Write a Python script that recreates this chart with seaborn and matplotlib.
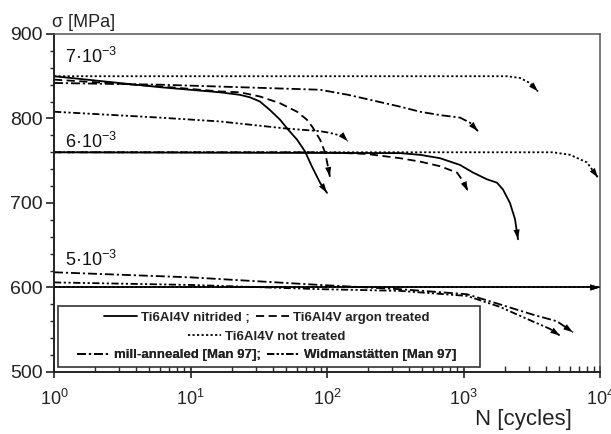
import numpy as np
import pandas as pd
import seaborn as sns
import matplotlib.pyplot as plt
from matplotlib.lines import Line2D
from matplotlib.patches import Rectangle
from matplotlib.ticker import MultipleLocator, LogLocator, NullFormatter

# --- data (N in cycles, sigma in MPa) ---
# Ti6Al4V nitrided (solid)
nit7_N = [1, 6, 16.4, 23, 27.3, 32.3, 38.2, 45.3, 51.8, 60.3, 69, 77.6, 88.9, 100]
nit7_s = [850, 837, 831, 828, 825, 820, 810, 798.5, 787, 775, 761, 743, 724, 712]
nit6_N = [1, 343, 480, 673, 943, 1174, 1487, 1760, 1945, 2190, 2383, 2508]
nit6_s = [760, 759, 757, 753, 745, 736, 728, 724, 716, 700, 681, 657]
nit5_N = [1, 9000, 10000]
nit5_s = [600, 600, 600]

# Ti6Al4V argon treated (dashed)
arg7_N = [1, 6, 16.4, 23, 32.3, 45.3, 60.3, 71.3, 78.9, 88.9, 96.7, 101.7, 105]
arg7_s = [846, 838, 832, 831, 826, 818, 808, 798.5, 789, 775, 760, 743, 731]
arg6_N = [1, 100, 196, 343, 480, 673, 896, 991, 1079]
arg6_s = [760, 760, 758, 753, 749, 743.5, 736, 726, 714]

# Ti6Al4V not treated (dotted)
not7_N = [1, 2090, 2594, 3060, 3515]
not7_s = [850, 850, 848, 842, 832]
not6_N = [1, 4530, 6030, 8030, 9670]
not6_s = [760, 760, 757, 748, 730]
not5_N = [1, 10000]
not5_s = [600, 600]

# mill-annealed [Man 97] (dash-dot)
mill7_N = [1, 6, 88.9, 143, 343, 480, 673, 943, 1116, 1277]
mill7_s = [842, 840, 834, 828, 814, 808, 804, 801, 795, 785]
mill5_N = [1, 10, 88.9, 343, 1062, 1850, 3200, 4840, 6340]
mill5_s = [618, 612, 603, 598, 592, 580, 568, 560, 547]

# Widmanstaetten [Man 97] (dash-dot-dot)
wid7_N = [1, 6, 16.4, 51, 88.9, 105, 131, 142]
wid7_s = [808, 801, 796.5, 788, 785, 783, 779, 773]
wid5_N = [1, 10, 88.9, 343, 1062, 1850, 3200, 4300, 5090]
wid5_s = [606, 603, 598, 596, 590, 577, 560, 551, 543]

strain_labels = ['7·10$^{-3}$', '6·10$^{-3}$', '5·10$^{-3}$']
strain_label_y = [866, 765.5, 625.5]

styles = {
    'nitrided': '-',
    'argon': (0, (4.5, 2.5)),
    'not': (0, (1.2, 1.3)),
    'mill': (0, (5, 1.6, 1.2, 1.6)),
    'wid': (0, (4, 1.4, 1.2, 1.4, 1.2, 1.4)),
}

curves = [
    ('nitrided', nit7_N, nit7_s), ('nitrided', nit6_N, nit6_s), ('nitrided', nit5_N, nit5_s),
    ('argon', arg7_N, arg7_s), ('argon', arg6_N, arg6_s),
    ('not', not7_N, not7_s), ('not', not6_N, not6_s), ('not', not5_N, not5_s),
    ('mill', mill7_N, mill7_s), ('mill', mill5_N, mill5_s),
    ('wid', wid7_N, wid7_s), ('wid', wid5_N, wid5_s),
]

sns.set_style('ticks')
plt.rcParams['font.family'] = ['Liberation Sans', 'DejaVu Sans']
plt.rcParams['mathtext.fontset'] = 'custom'
plt.rcParams['mathtext.rm'] = 'Liberation Sans'
plt.rcParams['mathtext.it'] = 'Liberation Sans:italic'
plt.rcParams['mathtext.bf'] = 'Liberation Sans:bold'

fig = plt.figure(figsize=(6.11, 4.34), dpi=100)
ax = fig.add_axes([0.0884, 0.1429, 0.8936, 0.7788])

for kind, N, s in curves:
    df = pd.DataFrame({'N': N, 's': s})
    sns.lineplot(data=df, x='N', y='s', ax=ax, color='k', lw=1.3,
                 linestyle=styles[kind], sort=False, estimator=None)
    # arrowhead at the end of each curve
    ax.annotate('', xy=(N[-1], s[-1]), xytext=(N[-2], s[-2]),
                arrowprops=dict(arrowstyle='-|>,head_length=0.7,head_width=0.22',
                                fc='k', ec='k', lw=0, shrinkA=0, shrinkB=0))

for lab, yy in zip(strain_labels, strain_label_y):
    ax.text(1.2, yy, lab, fontsize=13, va='baseline', ha='left', color='#111')

ax.set_xscale('log')
ax.set_xlim(1, 1e4)
ax.set_ylim(500, 900)
ax.yaxis.set_major_locator(MultipleLocator(100))
ax.yaxis.set_minor_locator(MultipleLocator(20))
ax.xaxis.set_major_locator(LogLocator(base=10))
ax.xaxis.set_minor_locator(LogLocator(base=10, subs=np.arange(2, 10)))
ax.xaxis.set_minor_formatter(NullFormatter())
ax.tick_params(axis='x', which='major', direction='inout', length=8, width=1.2,
               labelsize=13, colors='#222', pad=8)
ax.tick_params(axis='x', which='minor', direction='in', length=4, width=1)
ax.tick_params(axis='y', which='major', direction='out', length=6, width=1.2,
               labelsize=14, colors='#222', pad=2)
ax.tick_params(axis='y', which='minor', direction='out', length=3, width=1)

for side in ['left', 'bottom']:
    ax.spines[side].set_color('#222')
    ax.spines[side].set_linewidth(1.4)
for side in ['top', 'right']:
    ax.spines[side].set_visible(True)
    ax.spines[side].set_color('#555')
    ax.spines[side].set_linewidth(1.1)

ax.set_xlabel('N [cycles]', fontsize=16, color='#222')
ax.xaxis.set_label_coords(0.86, -0.11)
ax.set_ylabel('')
fig.text(52 / 611, 1 - 27 / 434, 'σ [MPa]', fontsize=13, color='#222',
         ha='left', va='baseline')

# legend box with three centred rows
ax.add_patch(Rectangle((0.007, 0.015), 0.773, 0.18, transform=ax.transAxes,
                       fc='white', ec='#333', lw=1.2, zorder=4))

def h(kind):
    return Line2D([], [], color='k', lw=1.3, linestyle=styles[kind])

rows = [
    ([h('nitrided'), h('argon')], ['Ti6Al4V nitrided ;', 'Ti6Al4V argon treated'], 0.16),
    ([h('not')], ['Ti6Al4V not treated'], 0.104),
    ([h('mill'), h('wid')], ['mill-annealed [Man 97];', 'Widmanstätten [Man 97]'], 0.05),
]
for handles, labels, yc in rows:
    leg = ax.legend(handles, labels, ncol=len(handles), loc='center',
                    bbox_to_anchor=(0.39, yc), frameon=False,
                    prop={'weight': 'bold', 'size': 9.5}, handlelength=2.5,
                    handletextpad=0.3, columnspacing=0.5, borderpad=0)
    leg.set_zorder(5)
    for t in leg.get_texts():
        t.set_color('#222')
    ax.add_artist(leg)

fig.savefig('out.png', dpi=100)
